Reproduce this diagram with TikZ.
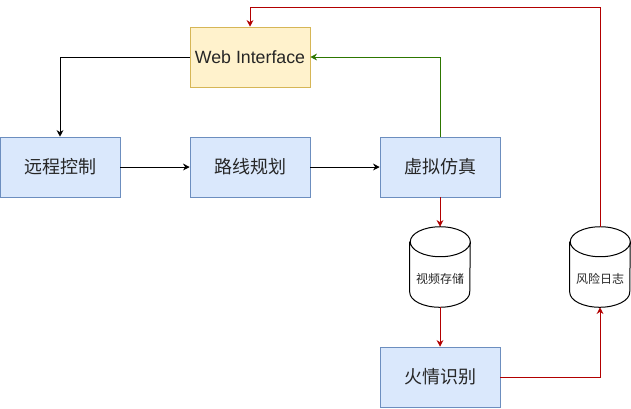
\documentclass[tikz,border=0pt]{standalone}
\usepackage{fontspec}
\setmainfont{Liberation Sans}
\newfontfamily\cjk{Noto Sans CJK SC}
\usetikzlibrary{arrows.meta}
\definecolor{boxblue}{HTML}{DAE8FC}
\definecolor{lineblue}{HTML}{6C8EBF}
\definecolor{boxyellow}{HTML}{FFF2CC}
\definecolor{lineyellow}{HTML}{D6B656}
\definecolor{flowred}{HTML}{B20000}
\definecolor{flowgreen}{HTML}{2D7600}
\tikzset{every node/.style={font=\cjk\fontsize{13.5}{16}\selectfont,text=black!85},line cap=round,line join=round}
\tikzset{
  stagebox/.style={draw=lineblue,fill=boxblue,minimum width=90pt,minimum height=45pt,inner sep=0pt},
  webbox/.style={draw=lineyellow,fill=boxyellow,minimum width=90pt,minimum height=45pt,inner sep=0pt},
  store/.style={minimum width=45pt,minimum height=60pt,inner sep=0pt,text height=25pt,text depth=0pt,font=\cjk\fontsize{9}{11}\selectfont},
  link/.style={-{Stealth[length=5pt,width=5pt]},line width=0.75pt},
  redlink/.style={link,draw=flowred,color=flowred},
  greenlink/.style={link,draw=flowgreen,color=flowgreen}
}

\begin{document}
\begin{tikzpicture}[x=0.75pt,y=-0.75pt]
  \path[use as bounding box] (0,0) rectangle (631,408);
  \node[webbox,font=\fontsize{13.3}{16}\selectfont] (web) at (250,57) {Web Interface};
  \node[stagebox] (remote) at (60,167) {远程控制};
  \node[stagebox] (route) at (250,167) {路线规划};
  \node[stagebox] (sim) at (440,167) {虚拟仿真};
  \node[store] (video) at (440,267) {视频存储};
  \node[stagebox] (fire) at (440,377) {火情识别};
  \node[store] (risk) at (600,267) {风险日志};
  \coordinate (turn) at (250,7);

  % cylinder outlines
  \foreach \db in {video,risk}
    \draw[line width=0.75pt] ([yshift=-11.25pt]\db.north west) -- ([yshift=11.25pt]\db.south west)
      arc[start angle=180,end angle=360,x radius=22.5pt,y radius=11.25pt]
      -- ([yshift=-11.25pt]\db.north east)
      arc[start angle=0,end angle=180,x radius=22.5pt,y radius=11.25pt]
      arc[start angle=180,end angle=360,x radius=22.5pt,y radius=11.25pt];

  \draw[link] (web.west) -| (remote.north);
  \draw[link] (remote) -- (route);
  \draw[link] (route) -- (sim);
  \draw[greenlink] (sim.north) |- (web.east);
  \draw[redlink] (sim) -- (video);
  \draw[redlink] (video) -- (fire);
  \draw[redlink] (fire.east) -| (risk.south);
  \draw[redlink] (risk.north) |- (turn) -- (web.north);
\end{tikzpicture}
\end{document}
